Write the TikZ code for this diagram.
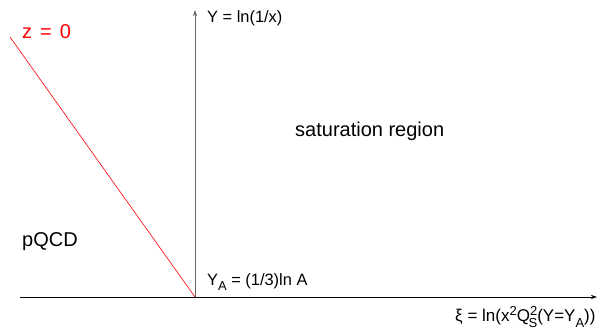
\documentclass[tikz,border=0pt]{standalone}
\usepackage{fontspec}
\setmainfont{Liberation Sans}
\usetikzlibrary{arrows.meta}

\newcommand{\lowsub}[1]{\raisebox{-0.3em}{\fontsize{13}{13}\selectfont #1}}
\newcommand{\highsup}[1]{\raisebox{0.35em}{\fontsize{13}{13}\selectfont #1}}

\begin{document}
\begin{tikzpicture}[x=1pt,y=-1pt,font=\fontsize{16.4}{19}\selectfont,
  axis/.style={line width=0.6pt,-{Stealth[length=6pt,width=4pt]}},
  lbl/.style={inner sep=0pt,anchor=west},
  big/.style={font=\fontsize{20}{24}\selectfont}]
  \useasboundingbox (0,0) rectangle (610,327);
  % axes
  \coordinate (O) at (195,297);
  \coordinate (xs) at (20,297);
  \coordinate (xe) at (597,297);
  \coordinate (ye) at (195,10);
  \coordinate (zs) at (10,37);
  \draw[axis] (xs) -- (xe);
  \draw[axis,gray!80!black] (O) -- (ye);
  \draw[red,line width=0.6pt] (zs) -- (O);
  % labels
  \node[lbl,big,red] (zlbl) at (22,32) {z\hspace{0.4em}=\hspace{0.4em}0};
  \node[lbl] (ylbl) at (207,18) {Y = ln(1/x)};
  \node[lbl,big] (sat) at (295,131) {saturation region};
  \node[lbl,big] (pqcd) at (22,242) {pQCD};
  \node[lbl] (ya) at (207,282) {Y\lowsub{A} = (1/3)ln A};
  \node[lbl,font=\fontsize{17}{20}\selectfont] (xi) at (455,317) {ξ = ln(x\highsup{2}Q\highsup{2}\llap{\lowsub{S}}(Y=Y\lowsub{A}))};
\end{tikzpicture}
\end{document}
